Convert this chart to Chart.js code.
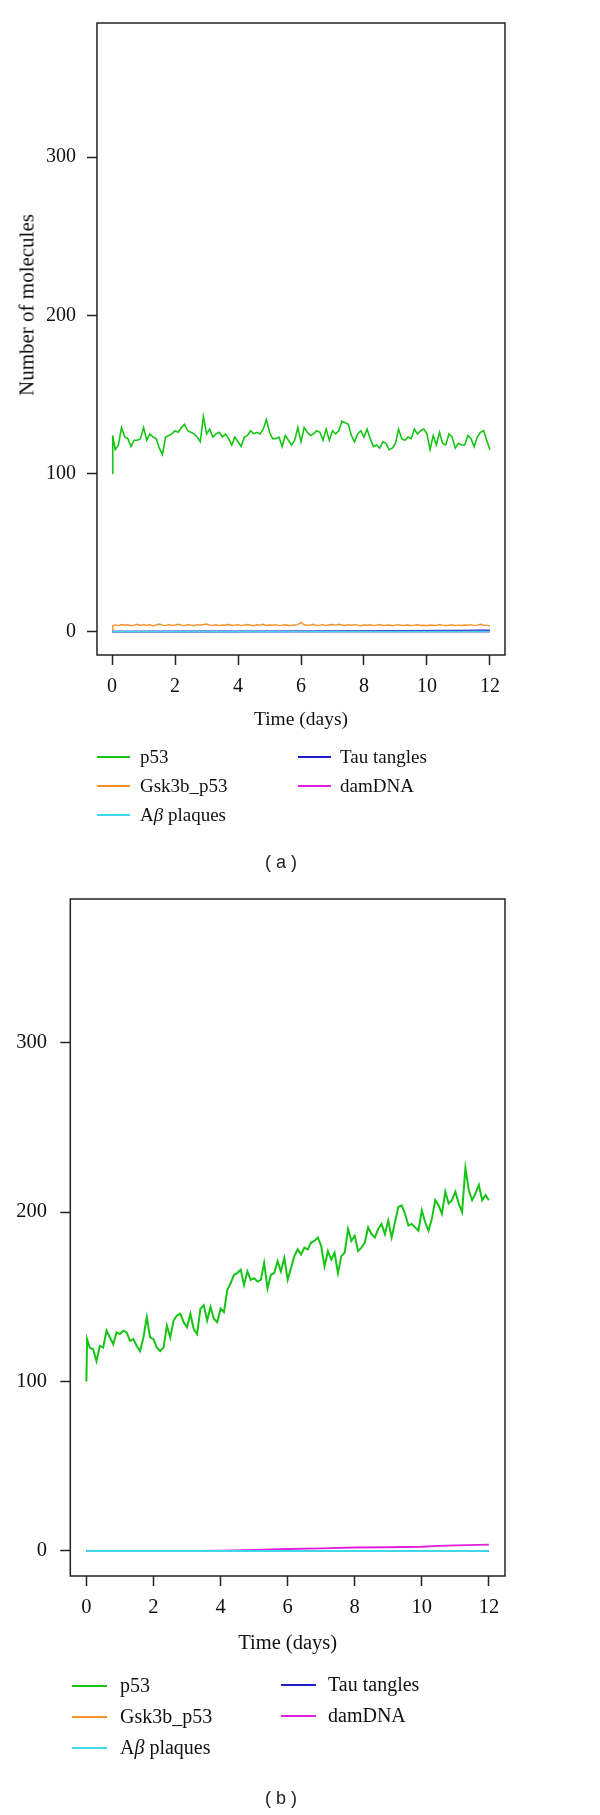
<!DOCTYPE html>
<html>
<head>
<meta charset="utf-8">
<script src="https://cdn.jsdelivr.net/npm/chart.js@4.4.1/dist/chart.umd.min.js"></script>
<style>
html,body{margin:0;padding:0;background:#fff;}
body{width:600px;height:1815px;position:relative;overflow:hidden;font-family:"Liberation Serif","Times New Roman",serif;color:#111;}
canvas{position:absolute;left:0;}
#cA{top:0;}
#cB{top:860px;}
.txt{position:absolute;white-space:nowrap;line-height:1;}
.sw{position:absolute;height:2px;}
.cap{position:absolute;font-family:"Liberation Sans",Arial,sans-serif;font-size:18px;color:#222;white-space:nowrap;line-height:1;transform:translateX(-50%);}
#ytitle{position:absolute;left:27px;top:305px;font-size:21px;white-space:nowrap;line-height:1;transform:translate(-50%,-50%) rotate(-90deg);}
</style>
</head>
<body>
<canvas id="cA" width="600" height="760"></canvas>
<canvas id="cB" width="600" height="955"></canvas>
<div id="ytitle">Number of molecules</div>
<div id="legends"></div>
<div class="cap" style="left:281px;top:853px;">( a )</div>
<div class="cap" style="left:281px;top:1789px;">( b )</div>
<script>
// ---------- data ----------
const seriesNames = ["p53", "Gsk3b_p53", "A<i>β</i> plaques", "Tau tangles", "damDNA"];
const seriesColors = ["#16C416", "#F7922A", "#3FD8EA", "#1C1CC8", "#E01EE0"];
const xTicks = [0, 2, 4, 6, 8, 10, 12];
const yTicks = [0, 100, 200, 300];
const xTitle = "Time (days)";

const timeDays = [0, 0.02,
  0.1, 0.2, 0.3, 0.4, 0.5, 0.6, 0.7, 0.8, 0.9, 1.0,
  1.1, 1.2, 1.3, 1.4, 1.5, 1.6, 1.7, 1.8, 1.9, 2.0,
  2.1, 2.2, 2.3, 2.4, 2.5, 2.6, 2.7, 2.8, 2.9, 3.0,
  3.1, 3.2, 3.3, 3.4, 3.5, 3.6, 3.7, 3.8, 3.9, 4.0,
  4.1, 4.2, 4.3, 4.4, 4.5, 4.6, 4.7, 4.8, 4.9, 5.0,
  5.1, 5.2, 5.3, 5.4, 5.5, 5.6, 5.7, 5.8, 5.9, 6.0,
  6.1, 6.2, 6.3, 6.4, 6.5, 6.6, 6.7, 6.8, 6.9, 7.0,
  7.1, 7.2, 7.3, 7.4, 7.5, 7.6, 7.7, 7.8, 7.9, 8.0,
  8.1, 8.2, 8.3, 8.4, 8.5, 8.6, 8.7, 8.8, 8.9, 9.0,
  9.1, 9.2, 9.3, 9.4, 9.5, 9.6, 9.7, 9.8, 9.9, 10.0,
  10.1, 10.2, 10.3, 10.4, 10.5, 10.6, 10.7, 10.8, 10.9, 11.0,
  11.1, 11.2, 11.3, 11.4, 11.5, 11.6, 11.7, 11.8, 11.9, 12.0];

// panel (a)
const p53A = [100, 124,
  115, 118, 129, 123, 122, 117, 121, 121, 122, 129,
  121, 125, 123, 122, 116, 112, 123, 124, 125, 127,
  126, 129, 131, 127, 126, 125, 123, 120, 136, 125,
  128, 123, 125, 126, 123, 125, 122, 118, 123, 120,
  117, 123, 124, 127, 125, 126, 125, 128, 134, 126,
  122, 122, 123, 117, 124, 121, 118, 121, 129, 120,
  129, 126, 124, 125, 127, 126, 121, 128, 121, 127,
  125, 127, 133, 132, 131, 124, 120, 125, 127, 123,
  128, 122, 117, 118, 116, 120, 119, 115, 116, 119,
  128, 122, 121, 123, 122, 128, 125, 127, 128, 125,
  115, 124, 118, 126, 119, 118, 125, 123, 116, 119,
  118, 118, 124, 122, 117, 123, 126, 127, 121, 115];
const gsk3bA = [0, 3.5,
  4.2, 3.8, 4.5, 4.0, 4.3, 3.7, 4.1, 4.6, 3.9, 4.4,
  4.0, 4.3, 3.6, 4.2, 4.8, 4.1, 3.8, 4.5, 3.9, 4.2,
  4.7, 4.0, 3.8, 4.3, 4.1, 3.7, 4.4, 4.0, 4.5, 4.8,
  4.1, 3.9, 4.3, 3.8, 4.2, 4.0, 4.6, 3.9, 4.1, 4.3,
  3.8, 4.2, 4.5, 4.0, 3.7, 4.3, 4.1, 4.6, 3.9, 4.2,
  4.0, 4.4, 3.8, 4.1, 4.3, 3.9, 4.0, 4.2, 4.4, 5.8,
  4.3, 4.0, 4.2, 4.6, 3.9, 4.1, 4.4, 3.8, 4.3, 4.5,
  4.1, 4.6, 4.2, 3.9, 4.3, 4.0, 4.4, 4.1, 3.7, 4.2,
  4.0, 4.3, 3.8, 4.1, 4.5, 3.9, 4.0, 4.2, 3.7, 4.1,
  4.4, 3.9, 4.0, 4.2, 3.8, 4.1, 4.3, 3.9, 4.0, 3.7,
  4.2, 4.0, 3.8, 4.5, 4.1, 3.9, 4.0, 4.3, 3.8, 4.1,
  3.9, 4.2, 4.0, 4.4, 3.8, 4.1, 4.6, 4.0, 3.9, 3.6];
const abTimeA = [0, 12];
const abA = [0, 0];
const tauTimeA = [0, 3, 5, 7, 9, 11, 12];
const tauA = [0, 0.05, 0.2, 0.35, 0.5, 0.65, 0.75];
const damTimeA = [0, 12];
const damA = [0, 0];

// panel (b)
const p53B = [100, 125,
  120, 119, 112, 121, 120, 130, 126, 122, 129, 128,
  130, 129, 124, 125, 121, 118, 126, 138, 126, 125,
  120, 118, 120, 133, 126, 136, 139, 140, 135, 132,
  140, 131, 128, 143, 145, 136, 144, 137, 135, 143,
  141, 154, 158, 163, 164, 166, 157, 165, 160, 161,
  159, 160, 170, 155, 163, 164, 171, 165, 173, 160,
  167, 174, 178, 175, 179, 178, 182, 183, 185, 180,
  168, 177, 172, 176, 164, 174, 176, 190, 183, 186,
  177, 179, 182, 191, 187, 185, 190, 193, 187, 195,
  185, 194, 203, 204, 199, 192, 193, 191, 189, 201,
  194, 189, 196, 207, 204, 199, 212, 205, 207, 212,
  205, 200, 226, 213, 207, 211, 216, 207, 210, 207];
const gskTimeB = [0, 12];
const gsk3bB = [0, 0];
const abTimeB = [0, 12];
const abB = [0, 0];
const tauTimeB = [0, 12];
const tauB = [0, 0];
const damTimeB = [0, 3.4, 4, 5, 6, 7, 8, 9, 10, 10.5, 11, 12];
const damB = [0, 0, 0.2, 0.6, 1.1, 1.5, 2.0, 2.2, 2.5, 3.0, 3.3, 3.7];

// ---------- chart builder ----------
const boxPlugin = {
  id: 'box',
  afterDraw(chart) {
    const {ctx, chartArea: a} = chart;
    ctx.save();
    ctx.strokeStyle = '#222';
    ctx.lineWidth = 1.5;
    ctx.strokeRect(a.left, a.top, a.right - a.left, a.bottom - a.top);
    ctx.restore();
  }
};

function series(idx, times, values, order, width) {
  return {
    label: seriesNames[idx].replace(/<[^>]+>/g, ''),
    data: times.map((t, i) => ({x: t, y: values[i]})),
    borderColor: seriesColors[idx],
    backgroundColor: seriesColors[idx],
    borderWidth: width,
    pointRadius: 0,
    fill: false,
    tension: 0,
    order: order
  };
}

function makeChart(id, datasets, L) {
  const fontT = {family: "'Liberation Serif', serif", size: L.fs, lineHeight: 1.2};
  return new Chart(document.getElementById(id), {
    type: 'line',
    data: {datasets},
    plugins: [boxPlugin],
    options: {
      responsive: false,
      animation: false,
      events: [],
      layout: {padding: {left: 0, right: L.padRight, top: L.padTop, bottom: L.padBottom}},
      plugins: {legend: {display: false}, tooltip: {enabled: false}},
      scales: {
        x: {
          type: 'linear', min: -0.48, max: 12.48,
          afterBuildTicks: s => { s.ticks = xTicks.map(v => ({value: v})); },
          afterFit: s => { s.height = L.xH; },
          grid: {drawOnChartArea: false, drawTicks: true, tickLength: 10, tickWidth: 1.5, tickColor: '#222'},
          border: {display: false},
          ticks: {color: '#111', font: fontT, padding: L.xPad, maxRotation: 0, autoSkip: false, callback: v => String(v)},
          title: {display: true, text: xTitle, color: '#111', font: {family: "'Liberation Serif', serif", size: L.tfs, lineHeight: 1.2}, padding: {top: 0, bottom: 0}}
        },
        y: {
          type: 'linear', min: -14.8, max: 384.8,
          afterBuildTicks: s => { s.ticks = yTicks.map(v => ({value: v})); },
          afterFit: s => { s.width = L.yW; },
          grid: {drawOnChartArea: false, drawTicks: true, tickLength: 10, tickWidth: 1.5, tickColor: '#222'},
          border: {display: false},
          ticks: {color: '#111', font: fontT, padding: L.yPad, autoSkip: false, callback: v => String(v)},
          title: {display: false}
        }
      }
    }
  });
}

// Panel (a): draw order p53 (bottom) ... Abeta plaques (top)
makeChart('cA', [
  series(0, timeDays, p53A, 5, 1.6),
  series(1, timeDays, gsk3bA, 4, 1.4),
  series(3, tauTimeA, tauA, 3, 1.8),
  series(4, damTimeA, damA, 2, 1.8),
  series(2, abTimeA, abA, 1, 1.8)
], {fs: 20, tfs: 19.5, padRight: 95, padTop: 21, padBottom: 28.3, xH: 76.7, xPad: 9.7, yW: 97, yPad: 11});

makeChart('cB', [
  series(0, timeDays, p53B, 5, 2.0),
  series(1, gskTimeB, gsk3bB, 4, 1.4),
  series(3, tauTimeB, tauB, 3, 1.8),
  series(4, damTimeB, damB, 2, 1.9),
  series(2, abTimeB, abB, 1, 1.9)
], {fs: 20.5, tfs: 20.5, padRight: 95, padTop: 39, padBottom: 158.7, xH: 80.3, xPad: 9.7, yW: 70.3, yPad: 13.3});

// ---------- legends (HTML) ----------
const legendLayouts = [
  {fs: 19, items: [
    {i: 0, sx: 97, sw: 33, tx: 140, y: 757},
    {i: 1, sx: 97, sw: 33, tx: 140, y: 786},
    {i: 2, sx: 97, sw: 33, tx: 140, y: 815},
    {i: 3, sx: 298, sw: 33, tx: 340, y: 757},
    {i: 4, sx: 298, sw: 33, tx: 340, y: 786}]},
  {fs: 20, items: [
    {i: 0, sx: 72, sw: 35, tx: 120, y: 1686},
    {i: 1, sx: 72, sw: 35, tx: 120, y: 1717},
    {i: 2, sx: 72, sw: 35, tx: 120, y: 1748},
    {i: 3, sx: 281, sw: 35, tx: 328, y: 1685},
    {i: 4, sx: 281, sw: 35, tx: 328, y: 1716}]}
];
const lg = document.getElementById('legends');
legendLayouts.forEach(L => {
  L.items.forEach(it => {
    const s = document.createElement('div');
    s.className = 'sw';
    s.style.left = it.sx + 'px';
    s.style.width = it.sw + 'px';
    s.style.top = (it.y - 1) + 'px';
    s.style.background = seriesColors[it.i];
    lg.appendChild(s);
    const t = document.createElement('div');
    t.className = 'txt';
    t.style.left = it.tx + 'px';
    t.style.top = (it.y - L.fs * 0.55) + 'px';
    t.style.fontSize = L.fs + 'px';
    t.innerHTML = seriesNames[it.i];
    lg.appendChild(t);
  });
});
</script>
</body>
</html>
